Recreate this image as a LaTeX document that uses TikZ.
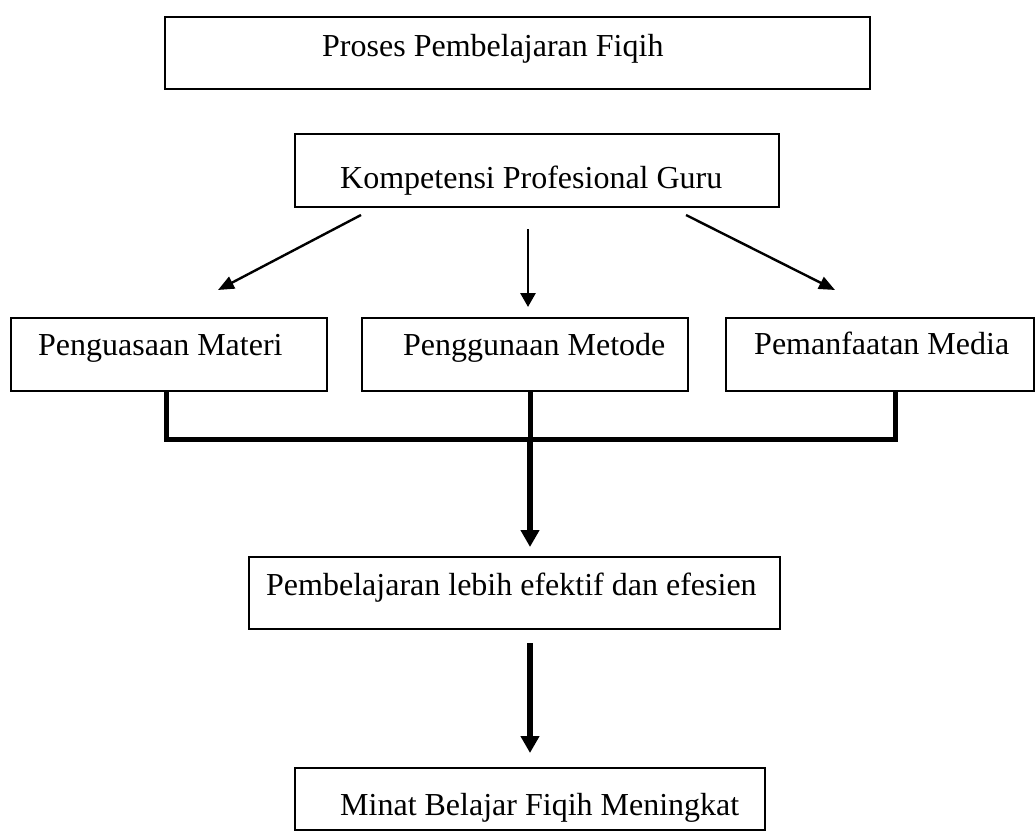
\documentclass[tikz,border=0pt]{standalone}
\usepackage{fontspec}
\setmainfont{Liberation Serif}
\usetikzlibrary{arrows.meta}
\begin{document}
\begin{tikzpicture}[x=1pt,y=-1pt,
  box/.style={draw=black,line width=1.6pt,inner sep=0pt},
  lbl/.style={anchor=base west,inner sep=0pt,font=\fontsize{32}{38}\selectfont},
  thin/.style={line width=2.4pt,-{Triangle[length=16pt,width=13pt]}},
  mid/.style={line width=2.8pt,-{Triangle[length=14pt,width=15pt]}},
  thick/.style={line width=5.5pt,-{Triangle[length=17pt,width=18pt]}},
  bar/.style={line width=5pt}]
\useasboundingbox (0,0) rectangle (1035,832);
% boxes
\node[box,minimum width=705pt,minimum height=72pt] (proses) at (517.5,53) {};
\node[box,minimum width=484pt,minimum height=73pt] (komp) at (537,170.5) {};
\node[box,minimum width=316pt,minimum height=73pt] (materi) at (169,354.5) {};
\node[box,minimum width=326pt,minimum height=73pt] (metode) at (525,354.5) {};
\node[box,minimum width=308pt,minimum height=73pt] (media) at (880,354.5) {};
\node[box,minimum width=531pt,minimum height=72pt] (efektif) at (514.5,593) {};
\node[box,minimum width=470pt,minimum height=62pt] (minat) at (530,799) {};
% texts
\node[lbl] (tproses) at (322,57) {Proses Pembelajaran Fiqih};
\node[lbl] (tkomp) at (340,188) {Kompetensi Profesional Guru};
\node[lbl] (tmateri) at (38,355) {Penguasaan Materi};
\node[lbl] (tmetode) at (403,355) {Penggunaan Metode};
\node[lbl] (tmedia) at (754,354) {Pemanfaatan Media};
\node[lbl] (tefektif) at (266,595) {Pembelajaran lebih efektif dan efesien};
\node[lbl] (tminat) at (340,815) {Minat Belajar Fiqih Meningkat};
% arrow end points
\coordinate (a1s) at (361,215);
\coordinate (a1e) at (218,290);
\coordinate (a2s) at (528,229);
\coordinate (a2e) at (528,307);
\coordinate (a3s) at (686,215);
\coordinate (a3e) at (835,290);
\coordinate (bl) at (166,439);
\coordinate (bm) at (530,439);
\coordinate (br) at (895,439);
\coordinate (bm2) at (530,547);
\coordinate (c1) at (530,643);
\coordinate (c2) at (530,753);
\draw[thin] (a1s) -- (a1e);
\draw[mid] (a2s) -- (a2e);
\draw[thin] (a3s) -- (a3e);
% bracket
\draw[bar] (materi.south -| bl) -- (bl) -- (br) -- (media.south -| br);
\draw[bar] (metode.south -| bm) -- (bm);
\draw[thick] (bm) -- (bm2);
\draw[thick] (c1) -- (c2);
\end{tikzpicture}
\end{document}
